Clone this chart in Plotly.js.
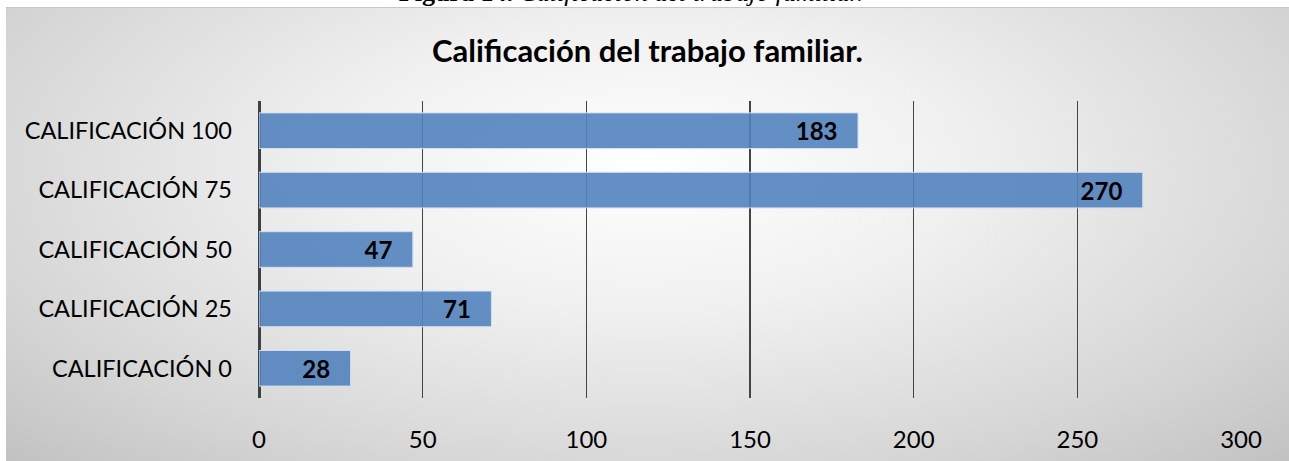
<!DOCTYPE html>
<html>
<head>
<meta charset="utf-8">
<script src="https://cdn.plot.ly/plotly-3.0.1.min.js"></script>
<style>
  html, body { margin: 0; padding: 0; background: #fff; }
  #wrap { position: relative; width: 1289px; height: 461px; overflow: hidden; }
  #caption {
    position: absolute; left: 0; width: 1262px; top: -22px;
    text-align: center; font-family: "Liberation Serif", serif; font-size: 26px;
    color: #000; line-height: 30px; white-space: nowrap;
  }
  #chart {
    position: absolute; left: 6px; top: 7px; width: 1283px; height: 454px;
    border-top: 1px solid #c8c8c8; box-sizing: border-box;
    background: radial-gradient(ellipse at 50% 35%, #ffffff 0%, #f0f0f0 35%, #d6d6d6 75%, #c2c2c2 100%);
  }
</style>
</head>
<body>
<div id="wrap">
  <div id="caption"><b>Figura 14.</b> <i>Calificación del trabajo familiar.</i></div>
  <div id="chart"></div>
</div>
<script>
const categories = ['CALIFICACIÓN 0', 'CALIFICACIÓN 25', 'CALIFICACIÓN 50', 'CALIFICACIÓN 75', 'CALIFICACIÓN 100'];
const counts = [28, 71, 47, 270, 183];
const xTicks = [0, 50, 100, 150, 200, 250, 300];

// padding after the value, so the label sits a bit back from the bar end
const pad = '\u00a0\u00a0\u00a0';

const trace = {
    type: 'bar',
    orientation: 'h',
    y: categories,
    x: counts,
    text: counts.map(v => v + pad),
    textposition: 'inside',
    insidetextanchor: 'end',
    constraintext: 'none',
    textfont: { family: 'Lato', size: 24, color: '#000', weight: 'bold' },
    marker: { color: 'rgba(82,131,190,0.9)', line: { color: '#d4e0ef', width: 1 } },
    hoverinfo: 'none'
};

const layout = {
    width: 1283,
    height: 454,
    margin: { l: 253, r: 48, t: 93, b: 64 },
    paper_bgcolor: 'rgba(0,0,0,0)',
    plot_bgcolor: 'rgba(0,0,0,0)',
    bargap: 0.4,
    showlegend: false,
    title: {
        text: 'Calificación del trabajo familiar.',
        font: { family: 'Lato', size: 31, color: '#000', weight: 'bold' },
        x: 0.5, xanchor: 'center', xref: 'container',
        y: 0.905, yanchor: 'middle', yref: 'container'
    },
    xaxis: {
        range: [0, 300],
        tickvals: xTicks,
        ticktext: xTicks.map(String),
        showgrid: true,
        gridcolor: '#444444',
        gridwidth: 1.5,
        zeroline: true,
        zerolinecolor: '#404040',
        zerolinewidth: 3,
        ticks: '',
        ticklabelstandoff: 25,
        tickfont: { family: 'Lato', size: 24, color: '#000' },
        fixedrange: true
    },
    yaxis: {
        showgrid: false,
        zeroline: false,
        showline: false,
        ticks: '',
        ticklabelstandoff: 26,
        tickfont: { family: 'Lato', size: 23.5, color: '#000' },
        fixedrange: true
    }
};

Plotly.newPlot('chart', [trace], layout, { displayModeBar: false, staticPlot: true });
</script>
</body>
</html>
